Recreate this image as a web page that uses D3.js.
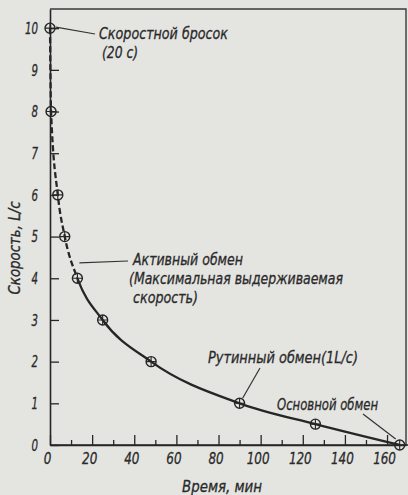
<!DOCTYPE html>
<html>
<head>
<meta charset="utf-8">
<script src="https://cdn.jsdelivr.net/npm/d3@7"></script>
<style>
  html, body { margin: 0; padding: 0; background: #e4e4e1; }
  svg { display: block; }
  text {
    font-family: "Liberation Sans Narrow", "DejaVu Sans Condensed", "Roboto Condensed", sans-serif;
    font-style: italic;
    font-stretch: condensed;
    fill: #2a2a2a;
    stroke: #2a2a2a;
    stroke-width: 0.3px;
  }
</style>
</head>
<body>
<script>
// Oxygen uptake speed vs. time: measured points
const timeMin = [0, 0.5, 3.7, 7, 13, 25, 48, 90, 126, 166];
const speed   = [10, 8, 6, 5, 4, 3, 2, 1, 0.5, 0];
// index of the first point of the solid part of the curve
const solidFrom = 4;

const xTicks = [0, 20, 40, 60, 80, 100, 120, 140, 160];
const xMinorTicks = [10, 30, 50, 70, 90, 110, 130, 150];
const yTicks = [0, 1, 2, 3, 4, 5, 6, 7, 8, 9, 10];

const xTitle = "Время, мин";
const yTitle = "Скорость, L/с";

// annotation texts with the data point each leader starts from
const notes = [
  { lines: ["Скоростной бросок", "(20 с)"], t: 0, v: 10 },
  { lines: ["Активный обмен", "(Максимальная выдерживаемая", "скорость)"], t: 13, v: 4.2 },
  { lines: ["Рутинный обмен(1L/с)"], t: 90, v: 1 },
  { lines: ["Основной обмен"], t: 166, v: 0 }
];

const W = 408, H = 495;
const plot = { left: 50, right: 406, top: 9, bottom: 445 };

const x = d3.scaleLinear().domain([0, 169]).range([plot.left, plot.right]);
const y = d3.scaleLinear().domain([0, 10.46]).range([plot.bottom, plot.top]);

const svg = d3.select("body").append("svg")
  .attr("width", W).attr("height", H);

const ink = "#262626";

// frame: top and right edges
svg.append("path")
  .attr("d", `M${plot.left},${plot.top}H${plot.right}V${plot.bottom}`)
  .attr("fill", "none").attr("stroke", "#3a3a3a").attr("stroke-width", 1.4);

// x axis with inward ticks
const xAxis = svg.append("g").attr("transform", `translate(0,${plot.bottom})`)
  .call(d3.axisBottom(x).tickValues(xTicks).tickSize(-10).tickSizeOuter(0).tickPadding(7));
xAxis.selectAll(".tick text").attr("dy", "0.72em").attr("dx", -3)
  .attr("textLength", d => String(d).length * 7.6).attr("lengthAdjust", "spacingAndGlyphs");
svg.append("g").attr("transform", `translate(0,${plot.bottom})`)
  .call(d3.axisBottom(x).tickValues(xMinorTicks).tickSize(-5).tickFormat(""))
  .select(".domain").remove();

// y axis with inward ticks
const yAxis = svg.append("g").attr("transform", `translate(${plot.left},0)`)
  .call(d3.axisLeft(y).tickValues(yTicks).tickSize(-9).tickSizeOuter(0).tickPadding(12));
yAxis.selectAll(".tick text")
  .attr("textLength", d => String(d).length * 6.5).attr("lengthAdjust", "spacingAndGlyphs");

svg.selectAll(".domain").attr("stroke", ink).attr("stroke-width", 1.6);
svg.selectAll(".tick line").attr("stroke", ink).attr("stroke-width", 1.3);
svg.selectAll(".tick text").style("font-size", "16.5px").attr("fill", "#2a2a2a");

// extend the x axis line to the right frame
svg.append("line")
  .attr("x1", plot.left).attr("x2", W).attr("y1", plot.bottom).attr("y2", plot.bottom)
  .attr("stroke", ink).attr("stroke-width", 1.6);

// axis titles
svg.append("text")
  .attr("x", 222).attr("y", 492)
  .attr("text-anchor", "middle")
  .attr("textLength", 80).attr("lengthAdjust", "spacingAndGlyphs")
  .style("font-size", "16.5px")
  .text(xTitle);
svg.append("text")
  .attr("transform", `translate(20,248) rotate(-90)`)
  .attr("text-anchor", "middle")
  .attr("textLength", 93).attr("lengthAdjust", "spacingAndGlyphs")
  .style("font-size", "16.5px")
  .text(yTitle);

// curve: dashed until the first solid point, solid afterwards
const pts = timeMin.map((t, i) => [t, speed[i]]);
const line = d3.line().x(d => x(d[0])).y(d => y(d[1])).curve(d3.curveMonotoneX);
const cut = x(timeMin[solidFrom]);

const defs = svg.append("defs");
defs.append("clipPath").attr("id", "clip-dash")
  .append("rect").attr("x", 0).attr("y", 0).attr("width", cut).attr("height", H);
defs.append("clipPath").attr("id", "clip-solid")
  .append("rect").attr("x", cut).attr("y", 0).attr("width", W - cut).attr("height", H);

svg.append("path")
  .attr("d", line(pts))
  .attr("clip-path", "url(#clip-dash)")
  .attr("fill", "none").attr("stroke", ink).attr("stroke-width", 2.3)
  .attr("stroke-dasharray", "6 3");
svg.append("path")
  .attr("d", line(pts))
  .attr("clip-path", "url(#clip-solid)")
  .attr("fill", "none").attr("stroke", ink).attr("stroke-width", 2.3);

// crossed-circle markers
const r = 5;
const mk = svg.append("g").selectAll("g").data(pts).join("g")
  .attr("transform", d => `translate(${x(d[0])},${y(d[1])})`);
mk.append("circle").attr("r", r).attr("fill", "none")
  .attr("stroke", ink).attr("stroke-width", 1.4);
mk.append("path").attr("d", `M${-r},0H${r}M0,${-r}V${r}`)
  .attr("stroke", ink).attr("stroke-width", 1.1);

// annotation placement: leader offset from the point, leader end, text origin, line widths
const layout = [
  { from: [6, -1], to: [95, 34], tx: [99, 102], ty: 39, lh: 19, w: [129, 36] },
  { from: [2, -7], to: [128, 261], tx: [133, 129, 133], ty: 265, lh: 19, w: [110, 214, 65] },
  { from: [3, -5], to: [260, 368], tx: [208], ty: 363, lh: 18, w: [150] },
  { from: [-4, -6], to: [363, 414], tx: [277], ty: 410, lh: 18, w: [101] }
];
notes.forEach((n, i) => {
  const L = layout[i];
  const px = x(n.t) + L.from[0], py = y(n.v) + L.from[1];
  svg.append("line")
    .attr("x1", px).attr("y1", py).attr("x2", L.to[0]).attr("y2", L.to[1])
    .attr("stroke", "#333").attr("stroke-width", 1.2);
  n.lines.forEach((s, j) => {
    svg.append("text")
      .attr("x", L.tx[j]).attr("y", L.ty + j * L.lh)
      .attr("textLength", L.w[j]).attr("lengthAdjust", "spacingAndGlyphs")
      .style("font-size", "16.5px")
      .text(s);
  });
});
</script>
</body>
</html>
